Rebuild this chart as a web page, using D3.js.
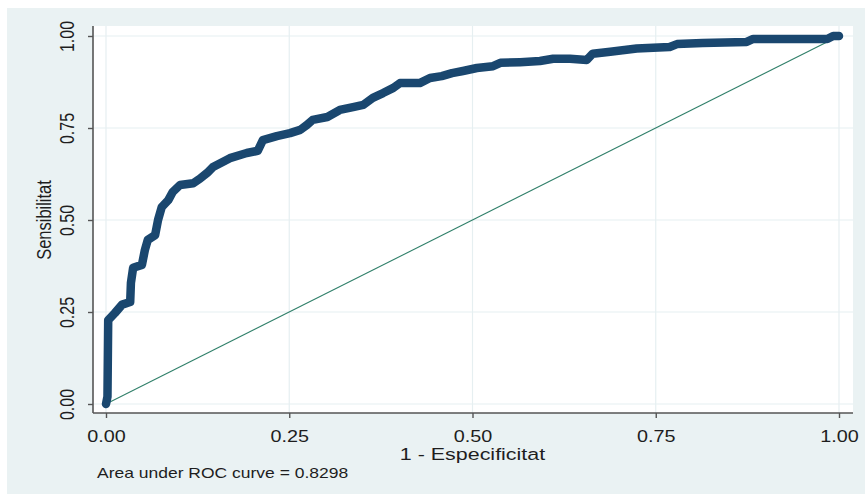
<!DOCTYPE html>
<html>
<head>
<meta charset="utf-8">
<script src="https://cdn.jsdelivr.net/npm/d3@7"></script>
<style>
  body { margin: 0; background: #fff; }
  text { font-family: "Liberation Sans", Arial, sans-serif; }
</style>
</head>
<body>
<svg width="865" height="494"></svg>
<script>
// ROC curve points: 1 - specificity, sensitivity
const fpr = [0, 0.002, 0.003, 0.012, 0.022, 0.033, 0.034, 0.037, 0.049, 0.053, 0.057, 0.067,
  0.071, 0.076, 0.085, 0.091, 0.101, 0.119, 0.128, 0.138, 0.146, 0.169, 0.192, 0.207, 0.214,
  0.233, 0.251, 0.265, 0.274, 0.282, 0.302, 0.319, 0.337, 0.351, 0.364, 0.378, 0.392, 0.401,
  0.428, 0.442, 0.458, 0.472, 0.487, 0.506, 0.528, 0.538, 0.565, 0.592, 0.61, 0.633, 0.656,
  0.664, 0.688, 0.724, 0.769, 0.779, 0.814, 0.874, 0.883, 0.937, 0.984, 0.992, 1];
const tpr = [0, 0.02, 0.228, 0.247, 0.27, 0.277, 0.329, 0.37, 0.378, 0.418, 0.446, 0.459,
  0.5, 0.535, 0.554, 0.576, 0.595, 0.6, 0.612, 0.628, 0.644, 0.668, 0.682, 0.688, 0.717,
  0.728, 0.736, 0.745, 0.758, 0.772, 0.78, 0.799, 0.807, 0.813, 0.832, 0.845, 0.859, 0.872,
  0.872, 0.886, 0.891, 0.899, 0.905, 0.913, 0.918, 0.927, 0.929, 0.932, 0.938, 0.938, 0.935,
  0.952, 0.957, 0.966, 0.97, 0.978, 0.981, 0.984, 0.992, 0.992, 0.992, 1, 1];

const ticks = [0, 0.25, 0.5, 0.75, 1];
const tickLabels = ["0.00", "0.25", "0.50", "0.75", "1.00"];
const xTitle = "1 - Especificitat";
const yTitle = "Sensibilitat";
const note = "Area under ROC curve = 0.8298";

var svg = d3.select("svg");

// outer graph region
svg.append("rect")
    .attr("x", 7).attr("y", 8)
    .attr("width", 858).attr("height", 486)
    .attr("fill", "#eaf2f3");

// plot region
var pL = 93, pT = 26, pR = 853, pB = 413;
svg.append("rect")
    .attr("x", pL).attr("y", pT)
    .attr("width", pR - pL).attr("height", pB - pT)
    .attr("fill", "#ffffff");

var x = d3.scaleLinear().domain([0, 1]).range([106, 839]);
var y = d3.scaleLinear().domain([0, 1]).range([404, 36]);

// grid lines
var grid = svg.append("g").attr("stroke", "#e6eff1").attr("stroke-width", 1.2);
grid.selectAll(".gx").data(ticks).enter().append("line")
    .attr("x1", d => x(d)).attr("x2", d => x(d))
    .attr("y1", pT).attr("y2", pB);
grid.selectAll(".gy").data(ticks).enter().append("line")
    .attr("x1", pL).attr("x2", pR)
    .attr("y1", d => y(d)).attr("y2", d => y(d));

// diagonal reference
svg.append("line")
    .attr("x1", x(0)).attr("y1", y(0))
    .attr("x2", x(1)).attr("y2", y(1))
    .attr("stroke", "#2f7f69")
    .attr("stroke-width", 1.1);

// ROC curve
var pts = fpr.map((d, i) => [d, tpr[i]]);
var line = d3.line().x(d => x(d[0])).y(d => y(d[1]));
svg.append("path")
    .attr("d", line(pts))
    .attr("fill", "none")
    .attr("stroke", "#1a476f")
    .attr("stroke-width", 8.5)
    .attr("stroke-linejoin", "round")
    .attr("stroke-linecap", "round");

// axes
var fmt = (d) => tickLabels[ticks.indexOf(d)];
var xAxis = svg.append("g")
    .attr("transform", "translate(0," + pB + ")")
    .call(d3.axisBottom(x).tickValues(ticks).tickFormat(fmt).tickSize(5));
xAxis.select(".domain").remove();
xAxis.append("line").attr("x1", pL).attr("x2", pR)
    .attr("stroke", "#555").attr("stroke-width", 1.6);

var yAxis = svg.append("g")
    .attr("transform", "translate(" + pL + ",0)")
    .call(d3.axisLeft(y).tickValues(ticks).tickFormat(fmt).tickSize(5));
yAxis.select(".domain").remove();
yAxis.append("line").attr("y1", pT).attr("y2", pB)
    .attr("stroke", "#555").attr("stroke-width", 1.6);

svg.selectAll(".tick line").attr("stroke", "#555").attr("stroke-width", 1.4);
svg.selectAll(".tick text")
    .attr("font-size", 16.5)
    .attr("fill", "#1e1e1e")
    .attr("x", null).attr("y", null).attr("dy", null)
    .attr("text-anchor", "middle")
    .style("font-family", "'Liberation Sans', Arial, sans-serif");

// the picture is stretched sideways, so text is widened a bit
xAxis.selectAll(".tick text")
    .attr("transform", "translate(0,28.5) scale(1.2,1)");
yAxis.selectAll(".tick text")
    .attr("font-size", 16)
    .attr("transform", "translate(-19,0) scale(1.25,1) rotate(-90)");

// titles
svg.append("text")
    .attr("transform", "translate(" + x(0.5) + ",459.5) scale(1.3,1)")
    .attr("text-anchor", "middle")
    .attr("font-size", 16.5).attr("fill", "#1e1e1e")
    .text(xTitle);

svg.append("text")
    .attr("transform", "translate(51,220) scale(1.25,1) rotate(-90)")
    .attr("text-anchor", "middle")
    .attr("font-size", 16.5).attr("fill", "#1e1e1e")
    .text(yTitle);

svg.append("text")
    .attr("transform", "translate(97,478) scale(1.25,1)")
    .attr("font-size", 14).attr("fill", "#1e1e1e")
    .text(note);
</script>
</body>
</html>
